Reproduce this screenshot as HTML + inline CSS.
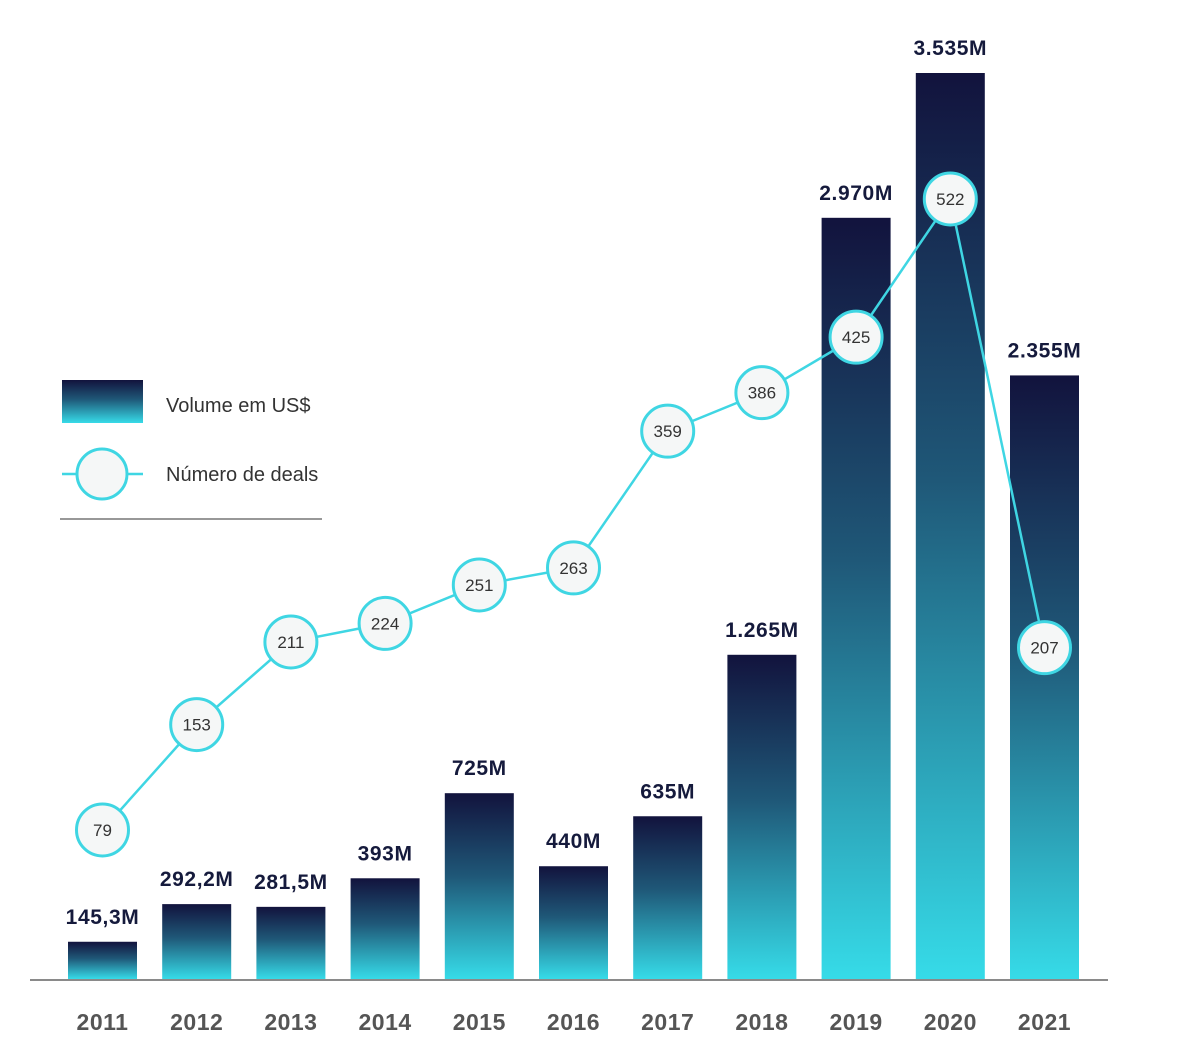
<!DOCTYPE html>
<html><head><meta charset="utf-8"><style>
body{margin:0;background:#fff;}
svg text{font-family:"Liberation Sans",sans-serif;}
</style></head><body>
<svg width="1200" height="1042" viewBox="0 0 1200 1042">
<defs>
<linearGradient id="g" x1="0" y1="0" x2="0" y2="1">
<stop offset="0" stop-color="#12133d"/><stop offset="0.45" stop-color="#1f5878"/><stop offset="1" stop-color="#36dbe8"/>
</linearGradient>
</defs>
<g id="bars"></g>
<line x1="30" y1="980" x2="1108" y2="980" stroke="#8a8a8a" stroke-width="2"/>
<g id="line"></g>
<g>
<rect x="62" y="380" width="81" height="43" fill="url(#g)"/>
<text x="166" y="412" font-size="20" fill="#333">Volume em US$</text>
<line x1="62" y1="474" x2="143" y2="474" stroke="#3fd6e3" stroke-width="2.5"/>
<circle cx="102" cy="474" r="25" fill="#f5f7f7" stroke="#3fd6e3" stroke-width="3"/>
<text x="166" y="481" font-size="20" fill="#333">Número de deals</text>
<line x1="60" y1="519" x2="322" y2="519" stroke="#777" stroke-width="1.5"/>
</g>
</svg>
<script>
const years=["2011","2012","2013","2014","2015","2016","2017","2018","2019","2020","2021"];
const volumes=[145.3,292.2,281.5,393,725,440,635,1265,2970,3535,2355];
const volumeLabels=["145,3M","292,2M","281,5M","393M","725M","440M","635M","1.265M","2.970M","3.535M","2.355M"];
const deals=[79,153,211,224,251,263,359,386,425,522,207];
const NS="http://www.w3.org/2000/svg";
const base=979, vScale=906/3535;
const xC=i=>102.5+i*94.2;
const yV=v=>base-v*vScale;
const yD=d=>942.5-d*1.4244;
const bars=document.getElementById('bars'), line=document.getElementById('line');
function mk(t,a,p){const e=document.createElementNS(NS,t);for(const k in a)e.setAttribute(k,a[k]);p.appendChild(e);return e;}
years.forEach((y,i)=>{
  const r=mk('rect',{x:xC(i)-34.5,y:yV(volumes[i]),width:69,height:base-yV(volumes[i]),fill:'url(#g)'},bars);
  
  
  const t=mk('text',{x:xC(i),y:yV(volumes[i])-18,'text-anchor':'middle','font-size':'21','font-weight':'bold','letter-spacing':'0.6',fill:'#151a3c'},bars);
  t.textContent=volumeLabels[i];
  
  
  const yl=mk('text',{x:xC(i),y:1030,'text-anchor':'middle','font-size':'23','font-weight':'bold','letter-spacing':'0.5',fill:'#555'},bars);
  yl.textContent=y;
  
  
});
const pl=mk('polyline',{points:deals.map((d,i)=>xC(i)+','+yD(d)).join(' '),fill:'none',stroke:'#3fd6e3','stroke-width':'2.5'},line);


deals.forEach((d,i)=>{
  const c=mk('circle',{cx:xC(i),cy:yD(d),r:26,fill:'#f5f7f7',stroke:'#3fd6e3','stroke-width':'3'},line);
  
  
  const t=mk('text',{x:xC(i),y:yD(d)+6,'text-anchor':'middle','font-size':'17',fill:'#333'},line);
  t.textContent=d;
  
  
});
</script>
</body></html>
